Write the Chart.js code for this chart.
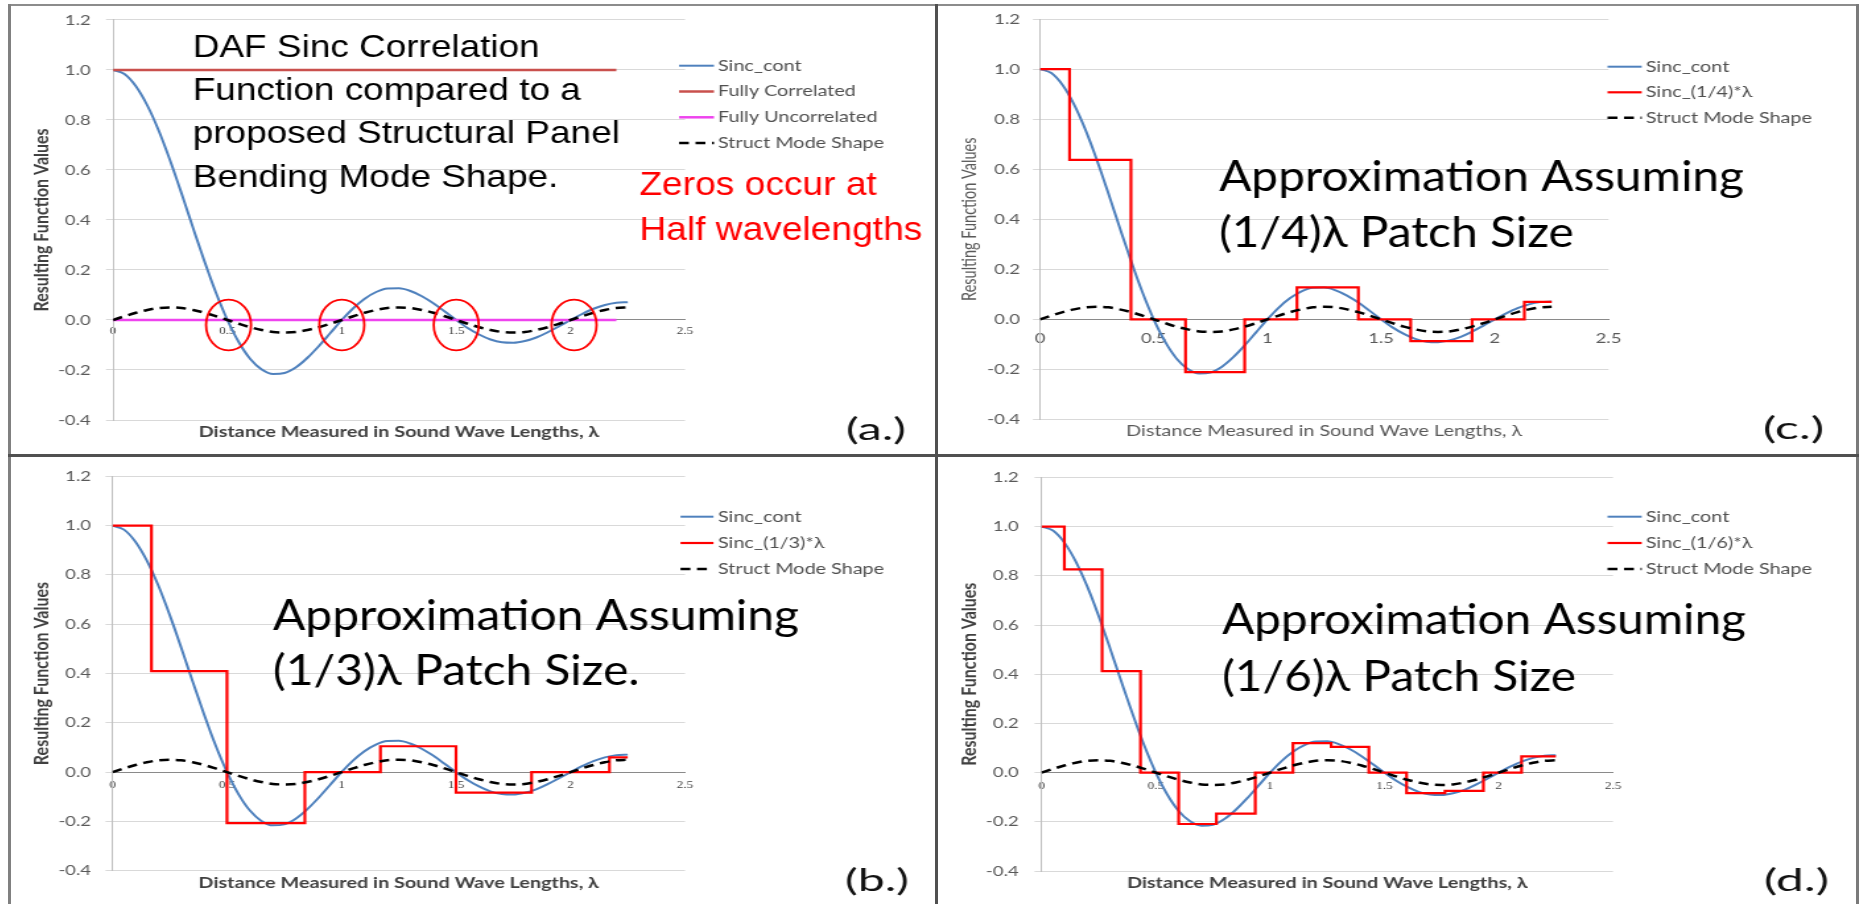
<!DOCTYPE html>
<html><head><meta charset="utf-8">
<script src="https://cdn.jsdelivr.net/npm/chart.js@4.4.1/dist/chart.umd.min.js"></script>
<style>
html,body{margin:0;padding:0;background:#fff;}
body{width:1866px;height:904px;position:relative;overflow:hidden;}
.wrap{position:absolute;transform-origin:0 0;}
.wrap canvas{display:block;}
.bd{position:absolute;z-index:5;}
</style></head><body>
<div class="wrap"><canvas id="ca"></canvas></div>
<div class="wrap"><canvas id="cc"></canvas></div>
<div class="wrap"><canvas id="cb"></canvas></div>
<div class="wrap"><canvas id="cd"></canvas></div>
<div class="bd" style="left:8px;top:4px;width:1851px;height:2px;background:#8c8c8c"></div>
<div class="bd" style="left:8px;top:4px;width:3px;height:900px;background:#808080"></div>
<div class="bd" style="left:1856px;top:4px;width:3px;height:900px;background:#7a7a7a"></div>
<div class="bd" style="left:935px;top:4px;width:3px;height:900px;background:#505050"></div>
<div class="bd" style="left:8px;top:454px;width:1851px;height:3px;background:#505050"></div>
<script>
// ---------------- data ----------------
const xCont = [0,0.05,0.1,0.15,0.2,0.25,0.3,0.35,0.4,0.45,0.5,0.55,0.6,0.65,0.7,0.75,0.8,0.85,0.9,0.95,1,1.05,1.1,1.15,1.2,1.25,1.3,1.35,1.4,1.45,1.5,1.55,1.6,1.65,1.7,1.75,1.8,1.85,1.9,1.95,2,2.05,2.1,2.15,2.2,2.25];
const sincCont = [1,0.984,0.935,0.858,0.757,0.637,0.505,0.368,0.234,0.109,0,-0.089,-0.156,-0.198,-0.216,-0.212,-0.189,-0.151,-0.104,-0.052,0,0.047,0.085,0.112,0.126,0.127,0.116,0.095,0.067,0.034,0,-0.032,-0.058,-0.078,-0.089,-0.091,-0.084,-0.070,-0.049,-0.025,0,0.024,0.045,0.060,0.069,0.071];
const structMode = [0,0.015,0.029,0.040,0.048,0.050,0.048,0.040,0.029,0.015,0,-0.015,-0.029,-0.040,-0.048,-0.050,-0.048,-0.040,-0.029,-0.015,0,0.015,0.029,0.040,0.048,0.050,0.048,0.040,0.029,0.015,0,-0.015,-0.029,-0.040,-0.048,-0.050,-0.048,-0.040,-0.029,-0.015,0,0.015,0.029,0.040,0.048,0.050];
const corrX = [0, 2.2];
const fullyCorr = [1, 1];
const fullyUncorr = [0, 0];
const quarterX = [0,0.13,0.40,0.64,0.90,1.13,1.40,1.63,1.90,2.13,2.25];
const quarterY = [1.0,0.637,0,-0.211,0,0.128,0,-0.087,0,0.07,0.07];
const thirdX = [0,0.17,0.50,0.84,1.17,1.50,1.83,2.17,2.25];
const thirdY = [1.0,0.41,-0.207,0,0.105,-0.083,0,0.06,0.06];
const sixthX = [0,0.10,0.265,0.433,0.60,0.765,0.935,1.10,1.267,1.432,1.597,1.765,1.933,2.10,2.25];
const sixthY = [1.0,0.826,0.413,0,-0.209,-0.167,0,0.12,0.105,0,-0.083,-0.074,0,0.066,0.066];
const zeroMarksX = [0.505, 1.0, 1.5, 2.015];
const yTickValues = [-0.4,-0.2,0,0.2,0.4,0.6,0.8,1.0,1.2];
const yTickLabels = ['-0.4','-0.2','0.0','0.2','0.4','0.6','0.8','1.0','1.2'];
const xTickValues = [0,0.5,1,1.5,2,2.5];
const xTickLabels = ['0','0.5','1','1.5','2','2.5'];

// ---------------- helpers ----------------
const S = 1.32;
const pts = (xs, ys) => xs.map((x, i) => ({x: x, y: ys[i]}));
const DASH = [7.5, 5];
function contDS(order){ return {label:'Sinc_cont', data:pts(xCont,sincCont), borderColor:'#4F81BD', borderWidth:2, cubicInterpolationMode:'monotone', order:order}; }
function structDS(order){ return {label:'Struct Mode Shape', data:pts(xCont,structMode), borderColor:'#000000', borderWidth:2.5, borderDash:DASH, cubicInterpolationMode:'monotone', order:order}; }
function stepDS(label, xs, ys, order){ return {label:label, data:pts(xs,ys), borderColor:'#FF0000', borderWidth:2.2, stepped:true, order:order}; }

function decorPlugin(P){
  return {
    id:'decor_'+P.id,
    afterDraw(chart){
      const ctx = chart.ctx, s = P.s;
      const U = X => (X - P.left) / s;
      const V = Y => Y - P.top;
      ctx.save();
      if (P.circles){
        const xs = chart.scales.x, ys = chart.scales.y;
        ctx.strokeStyle = '#FF0000'; ctx.lineWidth = 1.8; ctx.setLineDash([]);
        zeroMarksX.forEach(xv => {
          ctx.beginPath();
          ctx.ellipse(xs.getPixelForValue(xv), ys.getPixelForValue(P.circles.y), P.circles.rx / s, P.circles.ry, 0, 0, Math.PI*2);
          ctx.stroke();
        });
      }
      const L = P.legend;
      ctx.font = '15px Lato'; ctx.textBaseline = 'middle'; ctx.textAlign = 'left';
      chart.data.datasets.forEach((ds, i) => {
        const y = V(L.ys[i]);
        ctx.beginPath(); ctx.setLineDash(ds.borderDash || []);
        ctx.lineWidth = ds.borderWidth; ctx.strokeStyle = ds.borderColor;
        ctx.moveTo(U(L.x1), y); ctx.lineTo(U(L.x2), y); ctx.stroke();
        ctx.setLineDash([]);
        ctx.fillStyle = '#505050';
        ctx.fillText(ds.label, U(L.tx), y);
      });
      P.texts.forEach(T => {
        ctx.font = T.font; ctx.fillStyle = T.color; ctx.textBaseline = 'alphabetic'; ctx.textAlign = 'left';
        const k = (T.refWidth / s) / ctx.measureText(T.lines[T.ref || 0]).width;
        T.lines.forEach((line, j) => {
          ctx.save(); ctx.translate(U(T.x), V(T.baselines[j])); ctx.scale(k, 1);
          ctx.fillText(line, 0, 0); ctx.restore();
        });
      });
      ctx.restore();
    }
  };
}

function makeChart(P){
  P.W = Math.round(P.width / S);
  const s = P.width / P.W; P.s = s;
  const cv = document.getElementById(P.id);
  cv.width = P.W; cv.height = P.height;
  const wrap = cv.parentElement;
  wrap.style.left = P.left + 'px'; wrap.style.top = P.top + 'px';
  wrap.style.width = P.W + 'px'; wrap.style.height = P.height + 'px';
  wrap.style.transform = 'scaleX(' + s + ')';
  const plotL = (P.plot.l - P.left) / s, plotR = (P.plot.r - P.left) / s;
  const plotT = P.plot.t - P.top, plotB = P.plot.b - P.top;
  const xtLH = P.xTitleFont.size * 1.2;
  const titlePadTop = (P.xTitleY - P.top) - plotB - xtLH / 2;
  const padBottom = P.height - (plotB + titlePadTop + xtLH);
  const ytLH = P.yTitleFont.size * 1.2;
  const yTitlePad = (P.yTitleX - P.left) / s - ytLH / 2;
  const yTickLen = 7 / s;
  const yTickPad = (P.plot.l - P.yLabelRight) / s - yTickLen;
  const xTickPad = P.xTickOff - P.xTickFont.size * 1.2 / 2;
  new Chart(cv, {
    type:'line',
    data:{datasets:P.datasets},
    options:{
      responsive:false, animation:false, devicePixelRatio:1, events:[],
      layout:{padding:{left:0, top:plotT, right:P.W - plotR, bottom:padBottom}},
      elements:{point:{radius:0}, line:{fill:false}},
      scales:{
        x:{type:'linear', min:0, max:2.5, position:{y:0},
           afterBuildTicks: sc => { sc.ticks = xTickValues.map(v => ({value:v})); },
           grid:{display:false, drawTicks:false, lineWidth:1},
           border:{display:true, color:'#8a8a8a', width:1},
           ticks:{autoSkip:false, maxRotation:0, minRotation:0, padding:xTickPad,
                  font:{family:P.xTickFont.family, size:P.xTickFont.size}, color:P.xTickColor,
                  callback:(v, i) => xTickLabels[i]}},
        y:{type:'linear', min:-0.4, max:1.2, position:'left',
           afterBuildTicks: sc => { sc.ticks = yTickValues.map(v => ({value:v})); },
           afterFit: sc => { sc.width = plotL; },
           grid:{color:'#D9D9D9', lineWidth:1, drawTicks:true, tickLength:yTickLen},
           border:{display:true, color:'#BFBFBF', width:1},
           ticks:{padding:yTickPad, font:{family:'Lato', size:14}, color:'#595959',
                  callback:(v, i) => yTickLabels[i]},
           title:{display:true, text:'Resulting Function Values',
                  font:{family:'Lato', size:P.yTitleFont.size, weight:P.yTitleFont.weight, lineHeight:1.2},
                  color:P.titleColor, padding:{top:yTitlePad, bottom:0}}}
      },
      plugins:{
        legend:{display:false}, tooltip:{enabled:false},
        title:{display:true, position:'bottom', fullSize:false,
               text:'Distance Measured in Sound Wave Lengths, \u03bb',
               font:{family:'Lato', size:P.xTitleFont.size, weight:P.xTitleFont.weight, lineHeight:1.2},
               color:P.titleColor, padding:{top:titlePadTop, bottom:0}}
      }
    },
    plugins:[decorPlugin(P)]
  });
}

const serifTick = {family:'Liberation Serif', size:10};
const boldT = {size:16, weight:'bold'}, boldX = {size:15, weight:'bold'};
const regT = {size:14.5, weight:'normal'}, regX = {size:15, weight:'normal'};

makeChart({
  id:'ca', left:10, top:0, width:925, height:454,
  plot:{l:113, r:685, t:15, b:420},
  yTitleX:42, xTitleY:431.7, yTitleFont:boldT, xTitleFont:boldX, titleColor:'#404040',
  xTickFont:serifTick, xTickColor:'#404040', xTickOff:11.5, yLabelRight:90.7,
  datasets:[
    contDS(4),
    {label:'Fully Correlated', data:pts(corrX, fullyCorr), borderColor:'#C9504D', borderWidth:2.5, order:3},
    {label:'Fully Uncorrelated', data:pts(corrX, fullyUncorr), borderColor:'#EE44EE', borderWidth:2.5, order:2},
    structDS(1)
  ],
  legend:{x1:679, x2:714, tx:718, ys:[65.7, 91.5, 117.3, 143]},
  circles:{y:-0.02, rx:22.5, ry:25.3},
  texts:[
    {lines:['DAF Sinc Correlation','Function compared to a','proposed Structural Panel','Bending Mode Shape.'],
     x:192.7, baselines:[56.7,100,143.3,186.7], font:'32px "Liberation Sans"', color:'#000', refWidth:347, ref:0},
    {lines:['Zeros occur at','Half wavelengths'], x:639.3, baselines:[195,240], font:'32.5px "Liberation Sans"', color:'#FF0000', refWidth:283, ref:1},
    {lines:['(a.)'], x:846, baselines:[440], font:'31px Lato', color:'#111', refWidth:60, ref:0}
  ]
});

makeChart({
  id:'cc', left:939, top:0, width:916, height:454,
  plot:{l:1040, r:1608.5, t:19, b:419.5},
  yTitleX:969.5, xTitleY:431.5, yTitleFont:regT, xTitleFont:regX, titleColor:'#595959',
  xTickFont:{family:'Lato', size:14}, xTickColor:'#595959', xTickOff:19, yLabelRight:1020,
  datasets:[ contDS(3), stepDS('Sinc_(1/4)*\u03bb', quarterX, quarterY, 2), structDS(1) ],
  legend:{x1:1607.5, x2:1641.7, tx:1645.8, ys:[66.7, 92.3, 117.7]},
  texts:[
    {lines:['Approximation Assuming','(1/4)\u03bb Patch Size'], x:1219, baselines:[190.7,246.7], font:'42px Lato', color:'#000', refWidth:525, ref:0},
    {lines:['(c.)'], x:1763, baselines:[438.5], font:'31px Lato', color:'#111', refWidth:61, ref:0}
  ]
});

makeChart({
  id:'cb', left:10, top:457, width:925, height:447,
  plot:{l:112.5, r:685, t:465.7, b:870.7},
  yTitleX:42, xTitleY:883.3, yTitleFont:boldT, xTitleFont:boldX, titleColor:'#404040',
  xTickFont:serifTick, xTickColor:'#404040', xTickOff:13, yLabelRight:91,
  datasets:[ contDS(3), stepDS('Sinc_(1/3)*\u03bb', thirdX, thirdY, 2), structDS(1) ],
  legend:{x1:680.5, x2:713.5, tx:718, ys:[516.7, 543, 569]},
  texts:[
    {lines:['Approximation Assuming','(1/3)\u03bb Patch Size.'], x:273, baselines:[630,685], font:'42px Lato', color:'#000', refWidth:526, ref:0},
    {lines:['(b.)'], x:845, baselines:[891], font:'31px Lato', color:'#111', refWidth:64, ref:0}
  ]
});

makeChart({
  id:'cd', left:939, top:457, width:916, height:447,
  plot:{l:1041.5, r:1613, t:464.7, b:871},
  yTitleX:969.5, xTitleY:883.3, yTitleFont:boldT, xTitleFont:boldX, titleColor:'#404040',
  xTickFont:serifTick, xTickColor:'#404040', xTickOff:13.6, yLabelRight:1018.6,
  datasets:[ contDS(3), stepDS('Sinc_(1/6)*\u03bb', sixthX, sixthY, 2), structDS(1) ],
  legend:{x1:1607.5, x2:1641.7, tx:1645.8, ys:[516.7, 543, 569]},
  texts:[
    {lines:['Approximation Assuming','(1/6)\u03bb Patch Size'], x:1222, baselines:[634,690.7], font:'42px Lato', color:'#000', refWidth:524, ref:0},
    {lines:['(d.)'], x:1764, baselines:[891], font:'31px Lato', color:'#111', refWidth:65, ref:0}
  ]
});
</script>
</body></html>
